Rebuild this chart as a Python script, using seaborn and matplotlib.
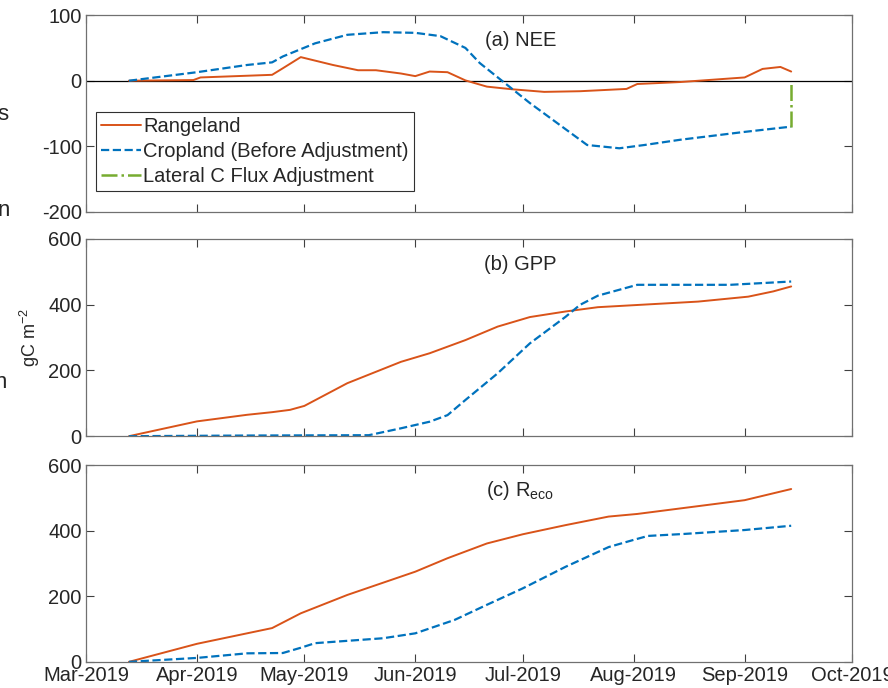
import numpy as np
import pandas as pd
import matplotlib
matplotlib.use('Agg')
import matplotlib.pyplot as plt
import matplotlib.dates as mdates
import seaborn as sns

# colours (matlab defaults)
c_range = '#D95319'
c_crop = '#0072BD'
c_adj = '#77AC30'

# (a) NEE
nee_range_dates = ['2019-03-13', '2019-03-31', '2019-04-02', '2019-04-15', '2019-04-22', '2019-04-25',
                   '2019-04-30', '2019-05-09', '2019-05-16', '2019-05-21', '2019-05-28', '2019-06-01',
                   '2019-06-05', '2019-06-10', '2019-06-15', '2019-06-21', '2019-06-28', '2019-07-07',
                   '2019-07-17', '2019-07-30', '2019-08-02', '2019-08-14', '2019-08-23', '2019-09-01',
                   '2019-09-06', '2019-09-11', '2019-09-14']
nee_range = [0, 1, 5, 7.6, 9, 19, 36, 24, 16, 16, 11, 7, 14, 13, 0.5, -9, -13, -17,
             -16, -12.5, -5, -2, 1.5, 5, 18, 21, 14]

nee_crop_dates = ['2019-03-13', '2019-04-01', '2019-04-15', '2019-04-22', '2019-04-25', '2019-05-04',
                  '2019-05-13', '2019-05-23', '2019-06-01', '2019-06-08', '2019-06-15', '2019-06-19',
                  '2019-06-26', '2019-07-03', '2019-07-12', '2019-07-19', '2019-07-28', '2019-08-04',
                  '2019-08-14', '2019-09-01', '2019-09-14']
nee_crop = [0, 13, 24, 28, 37, 57, 70, 74, 73, 68, 50, 27, -3.5, -34, -70, -98, -103, -98,
            -90, -78, -70]

# lateral C flux adjustment: from cropland end back to zero
adj_dates = ['2019-09-14', '2019-09-14']
adj_vals = [nee_crop[-1], 0]

# (b) GPP
gpp_range_dates = ['2019-03-13', '2019-04-01', '2019-04-15', '2019-04-22', '2019-04-27', '2019-05-01',
                   '2019-05-13', '2019-05-28', '2019-06-05', '2019-06-15', '2019-06-24', '2019-07-03',
                   '2019-07-13', '2019-07-22', '2019-08-19', '2019-09-02', '2019-09-09', '2019-09-14']
gpp_range = [0, 45, 65, 73, 80, 92, 161, 226, 252, 292, 333, 362, 379, 392, 409, 424, 440, 455]

gpp_crop_dates = ['2019-03-13', '2019-04-15', '2019-05-19', '2019-05-28', '2019-06-05', '2019-06-10',
                  '2019-06-15', '2019-06-24', '2019-07-03', '2019-07-13', '2019-07-17', '2019-07-22',
                  '2019-08-02', '2019-08-28', '2019-09-14']
gpp_crop = [0, 2, 3, 24, 44, 64, 110, 191, 282, 363, 399, 427, 460, 460, 470]

# (c) Reco
reco_range_dates = ['2019-03-13', '2019-04-01', '2019-04-15', '2019-04-22', '2019-04-30', '2019-05-13',
                    '2019-06-01', '2019-06-10', '2019-06-21', '2019-07-01', '2019-07-13', '2019-07-25',
                    '2019-08-02', '2019-09-01', '2019-09-14']
reco_range = [0, 55, 87, 103, 148, 204, 275, 316, 361, 389, 417, 443, 451, 493, 527]

reco_crop_dates = ['2019-03-13', '2019-04-01', '2019-04-15', '2019-04-25', '2019-04-30', '2019-05-04',
                   '2019-05-23', '2019-06-01', '2019-06-12', '2019-06-21', '2019-07-01', '2019-07-13',
                   '2019-07-25', '2019-08-01', '2019-08-05', '2019-08-15', '2019-09-01', '2019-09-14']
reco_crop = [0, 12, 26, 27, 43, 57, 72, 87, 128, 174, 224, 290, 350, 372, 384, 390, 402, 415]

panel_titles = ['(a) NEE', '(b) GPP', '(c) R$_{eco}$']
month_ticks = pd.date_range('2019-03-01', '2019-10-01', freq='MS')

sns.set_style('ticks')
plt.rcParams['font.family'] = ['Liberation Sans', 'DejaVu Sans']
plt.rcParams['mathtext.default'] = 'regular'
plt.rcParams['axes.unicode_minus'] = False

fig = plt.figure(figsize=(8.88, 6.88), dpi=100)
left, width = 0.0968, 0.8627
ax_a = fig.add_axes([left, 0.692, width, 0.286])
ax_b = fig.add_axes([left, 0.366, width, 0.287])
ax_c = fig.add_axes([left, 0.038, width, 0.286])
axes = [ax_a, ax_b, ax_c]

td = pd.to_datetime

ax_a.axhline(0, color='k', lw=0.9, zorder=1)
sns.lineplot(x=td(nee_range_dates), y=nee_range, ax=ax_a, color=c_range, lw=1.4,
             label='Rangeland')
sns.lineplot(x=td(nee_crop_dates), y=nee_crop, ax=ax_a, color=c_crop, lw=1.6,
             linestyle='--', label='Cropland (Before Adjustment)')
sns.lineplot(x=td(adj_dates), y=adj_vals, ax=ax_a, color=c_adj, lw=1.8,
             linestyle='-.', estimator=None, sort=False, label='Lateral C Flux Adjustment')

sns.lineplot(x=td(gpp_range_dates), y=gpp_range, ax=ax_b, color=c_range, lw=1.4, legend=False)
sns.lineplot(x=td(gpp_crop_dates), y=gpp_crop, ax=ax_b, color=c_crop, lw=1.6,
             linestyle='--', legend=False)

sns.lineplot(x=td(reco_range_dates), y=reco_range, ax=ax_c, color=c_range, lw=1.4, legend=False)
sns.lineplot(x=td(reco_crop_dates), y=reco_crop, ax=ax_c, color=c_crop, lw=1.6,
             linestyle='--', legend=False)

ax_a.set_ylim(-200, 100)
ax_a.set_yticks([-200, -100, 0, 100])
for ax in (ax_b, ax_c):
    ax.set_ylim(0, 600)
    ax.set_yticks([0, 200, 400, 600])

for i, ax in enumerate(axes):
    ax.set_xlim(month_ticks[0], month_ticks[-1])
    ax.set_xticks(month_ticks)
    ax.xaxis.set_major_formatter(mdates.DateFormatter('%b-%Y'))
    ax.tick_params(direction='in', length=5.5, width=0.8, top=True, right=True,
                   labelsize=14.5, pad=3, color='#404040')
    for s in ax.spines.values():
        s.set_visible(True)
        s.set_color('#707070')
        s.set_linewidth(0.9)
    ax.set_xlabel('')
    ax.set_ylabel('')
    ax.text(0.567, 0.87, panel_titles[i], transform=ax.transAxes, ha='center', va='center',
            fontsize=14.5)
    if i < 2:
        ax.tick_params(labelbottom=False)

leg = ax_a.legend(loc='upper left', bbox_to_anchor=(0.013, 0.508), fontsize=14.5,
                  frameon=True, fancybox=False, framealpha=1, edgecolor='#303030',
                  handlelength=2.0, handletextpad=0.1, labelspacing=0.3, borderpad=0.25,
                  borderaxespad=0)
leg.get_frame().set_linewidth(0.8)

ax_b.set_ylabel('gC m$^{-2}$', fontsize=13, labelpad=4)
ax_b.yaxis.set_label_coords(-0.057, 0.5)

# text fragments cut off at left edge
fig.text(-0.003, 1 - 115 / 688, 's', fontsize=16, ha='left', va='center')
fig.text(-0.003, 1 - 210 / 688, 'n', fontsize=16, ha='left', va='center')
fig.text(-0.006, 1 - 383 / 688, 'n', fontsize=16, ha='left', va='center')

fig.savefig('out.png', dpi=100)
